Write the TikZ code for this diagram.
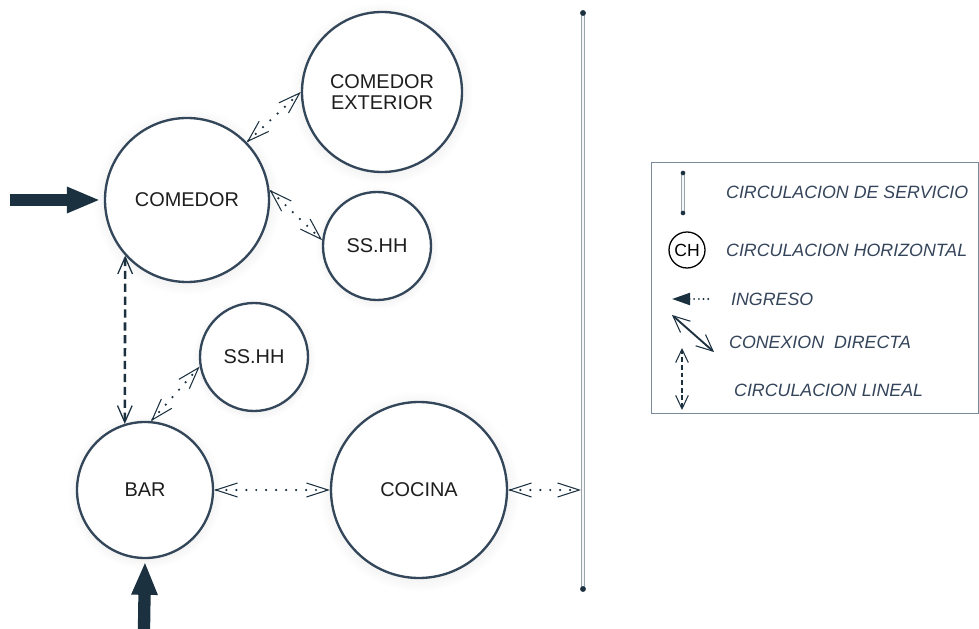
\documentclass[tikz,border=0pt]{standalone}
\usepackage{fontspec}
\setmainfont{Liberation Sans}
\setsansfont{Liberation Sans}
\usepackage{xcolor}
\definecolor{clNavy}{HTML}{1C3140}
\definecolor{clEdge}{HTML}{34475A}
\definecolor{clLabel}{HTML}{1E1E1E}
\definecolor{clLegend}{HTML}{34445A}
\definecolor{clFrame}{HTML}{7A8A98}
\definecolor{clRail}{HTML}{9AA6AE}
\usetikzlibrary{arrows.meta,positioning,shadows}
\tikzset{
  room/.style={circle, draw=clEdge, line width=2pt, fill=white, text=clLabel,
               align=center, inner sep=0pt, font=\fontsize{17}{18}\selectfont,
               circular drop shadow={shadow xshift=0pt, shadow yshift=-1pt,
                                     shadow scale=1.14, opacity=0.10}},
  conn/.style={{Straight Barb[length=6.5mm,width=4.2mm,line width=0.9pt]}-{Straight Barb[length=6.5mm,width=4.2mm,line width=0.9pt]},
               draw=clNavy, line width=2.1pt, line cap=round, dash pattern=on 0pt off 8.5pt},
  lineal/.style={{Straight Barb[length=5mm,width=4.4mm,line width=1.1pt]}-{Straight Barb[length=5mm,width=4.4mm,line width=1.1pt]},
                 draw=clNavy, line width=2.2pt, dash pattern=on 7pt off 4pt},
  access/.style={-{Triangle[length=10mm,width=7.2mm]}, draw=clNavy, line width=10.5pt},
  rail/.style={draw=clRail, double=white!90!clRail, line width=0.6pt, double distance=1.6pt},
  railend/.style={circle, fill=clNavy, inner sep=0pt, minimum size=5pt},
  legendtext/.style={anchor=west, text=clLegend, font=\fontsize{15.2}{18}\selectfont\itshape},
}

\begin{document}
\begin{tikzpicture}[x=0.03cm, y=-0.03cm]
  \useasboundingbox (0,0) rectangle (979,629);
  \node[room, minimum size=4.92cm] (com) at (187,200) {COMEDOR};
  \node[room, minimum size=4.8cm] (ext) at (382,92) {COMEDOR\\EXTERIOR};
  \node[room, minimum size=3.24cm] (ssa) at (377,246) {SS.HH};
  \node[room, minimum size=3.24cm] (ssb) at (254,357) {SS.HH};
  \node[room, minimum size=4.08cm] (bar) at (145,490) {BAR};
  \node[room, minimum size=5.28cm] (coc) at (419,490) {COCINA};
  \coordinate (srvtop) at (583,13);
  \coordinate (srvbot) at (583,589);
  \coordinate (srv) at (581,490);
  \draw[rail] (srvtop) -- (srvbot);
  \node[railend] at (srvtop) {};
  \node[railend] at (srvbot) {};
  \coordinate (inL) at (10,200);
  \coordinate (inB) at (144,629);
  \draw[access] (inL) -- ([xshift=-3pt]com.west);
  \draw[access] (inB) -- ([yshift=-2pt]bar.south);
  \draw[conn] (com.44) -- (ext.180);
  \draw[conn] (com.7) -- (ssa.174);
  \draw[conn] (bar.85) -- (ssb.190);
  \draw[conn] (bar.0) -- (coc.180);
  \draw[conn] (coc.0) -- (srv);
  \draw[lineal] (com.222) -- (bar.107);
  % leyenda
  \draw[clFrame, line width=0.8pt] (651,162) rectangle (978,413);
  \coordinate (lgA) at (683,173);
  \coordinate (lgB) at (683,213);
  \draw[rail] (lgA) -- (lgB);
  \node[railend, minimum size=4pt] at (lgA) {};
  \node[railend, minimum size=4pt] at (lgB) {};
  \node[circle, draw=black, line width=1.1pt, minimum size=1.08cm, inner sep=0pt,
        font=\fontsize{15}{16}\selectfont] (ch) at (687,250) {CH};
  \coordinate (ingA) at (672,299);
  \coordinate (ingB) at (710,299);
  \draw[clNavy, line width=1.8pt, line cap=round, dash pattern=on 0pt off 4pt,
        {Triangle[length=5.4mm,width=3.6mm]}-] (ingA) -- (ingB);
  \coordinate (cdA) at (672,315);
  \coordinate (cdB) at (714,352);
  \draw[clNavy, line width=1.6pt,
        {Straight Barb[length=5mm,width=4.5mm,line width=0.9pt]}-{Straight Barb[length=5mm,width=4.5mm,line width=0.9pt]}] (cdA) -- (cdB);
  \coordinate (clA) at (682,348);
  \coordinate (clB) at (682,410);
  \draw[clNavy, line width=1.5pt, dash pattern=on 4pt off 2.5pt,
        {Straight Barb[length=4mm,width=3.8mm,line width=0.9pt]}-{Straight Barb[length=4mm,width=3.8mm,line width=0.9pt]}] (clA) -- (clB);
  \node[legendtext] (tsrv) at (722,192) {CIRCULACION DE SERVICIO};
  \node[legendtext] (tch) at (722,250) {CIRCULACION HORIZONTAL};
  \node[legendtext] (ting) at (727,299) {INGRESO};
  \node[legendtext] (tcd) at (725,342) {CONEXION\ \ DIRECTA};
  \node[legendtext] (tcl) at (730,390) {CIRCULACION LINEAL};
\end{tikzpicture}
\end{document}
